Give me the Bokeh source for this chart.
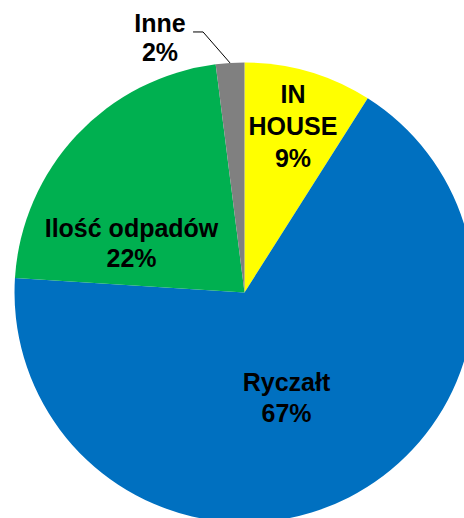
import math
from bokeh.plotting import figure
from bokeh.models import ColumnDataSource, Range1d
from bokeh.core.properties import value
from bokeh.embed import file_html
from bokeh.resources import INLINE

# ---- data ----
categories = ["IN HOUSE", "Ryczałt", "Ilość odpadów", "Inne"]
shares = [9, 67, 22, 2]
percent_labels = ["9%", "67%", "22%", "2%"]
label_names = ["IN\nHOUSE", "Ryczałt", "Ilość odpadów", "Inne"]
colors = ["#FFFF00", "#0070C0", "#00B050", "#808080"]

# ---- layout (pixels, origin top-left of figure) ----
W, H = 464, 518
pcx, pcy, R = 244, 292, 230
BASE_SHIFT = -10
# (dx of label centre, dy of first baseline, line spacing) relative to pie centre
label_layout = [(48.5, -189, 32), (42, 99, 31), (-113, -55, 30), (-84.5, -260, 29)]

def to_data(px, py):
    return px, H - py

cx, cy = to_data(pcx, pcy)

total = sum(shares)
starts, ends, cum = [], [], 0.0
for s in shares:
    starts.append(math.pi / 2 - 2 * math.pi * cum / total)
    cum += s
    ends.append(math.pi / 2 - 2 * math.pi * cum / total)

src = ColumnDataSource(dict(cat=categories, start=starts, end=ends, color=colors))

p = figure(width=W, height=H, output_backend="svg", toolbar_location=None,
           x_range=Range1d(0, W), y_range=Range1d(0, H), min_border=0)
p.axis.visible = False
p.grid.visible = False
p.outline_line_color = None
p.background_fill_color = "white"

p.wedge(x=cx, y=cy, radius=R, start_angle="start", end_angle="end",
        direction="clock", fill_color="color", line_color=None, source=src)

# leader line for the small slice
mid = (starts[3] + ends[3]) / 2
ex, ey = cx + R * math.cos(mid), cy + R * math.sin(mid)
p.line([ex, ex - 27, ex - 37], [ey, ey + 31, ey + 31], line_color="black", line_width=1)

tx, ty, tt = [], [], []
for name, pc, (dx, dy, sp) in zip(label_names, percent_labels, label_layout):
    lines = name.split("\n") + [pc]
    for i, ln in enumerate(lines):
        x, y = to_data(pcx + dx, pcy + dy + i * sp + BASE_SHIFT)
        tx.append(x)
        ty.append(y)
        tt.append(ln)

p.text(x=tx, y=ty, text=tt, text_align="center", text_baseline="alphabetic",
       text_font=value("Liberation Sans"), text_font_style="bold",
       text_font_size="25px", text_color="black")

open("out.html", "w").write(file_html(p, INLINE))
